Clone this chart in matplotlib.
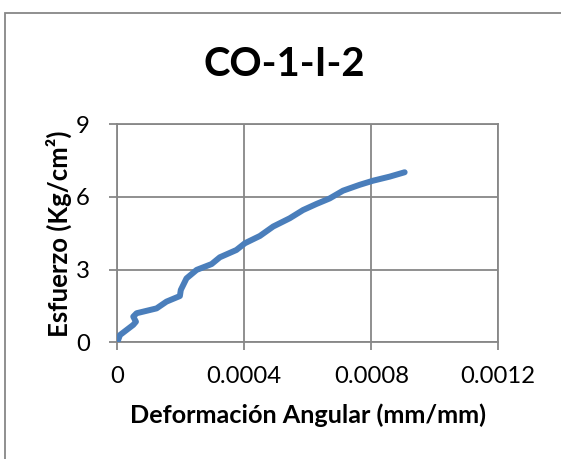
import matplotlib
matplotlib.use("Agg")
import matplotlib.pyplot as plt
from matplotlib.patches import Rectangle

# datos
deformacion = [0.0, 0.0000084, 0.0000503, 0.0000587, 0.0000503, 0.0000608, 0.0001237,
               0.000155, 0.0001971, 0.0002, 0.000218, 0.00025, 0.000297, 0.000323,
               0.000375, 0.000402, 0.000449, 0.000491, 0.000543, 0.000585, 0.000627,
               0.000669, 0.000711, 0.000763, 0.000805, 0.000858, 0.000905]
esfuerzo = [0.0, 0.30, 0.72, 0.85, 1.06, 1.20, 1.40, 1.68, 1.91, 2.16, 2.64, 2.99,
            3.23, 3.51, 3.81, 4.09, 4.39, 4.78, 5.12, 5.46, 5.71, 5.94, 6.26, 6.50,
            6.67, 6.84, 7.02]
xticks = [0, 0.0004, 0.0008, 0.0012]
xlabels = ["0", "0.0004", "0.0008", "0.0012"]
yticks = [0, 3, 6, 9]

plt.rcParams['font.family'] = ['Lato', 'DejaVu Sans']
gris = "#878787"

fig = plt.figure(figsize=(5.61, 4.59), dpi=100)

# marco del grafico
fig.patches.append(Rectangle((5 / 561, -0.1), 1.2, 1 - 13 / 459 + 0.1, transform=fig.transFigure,
                             fill=False, edgecolor=gris, linewidth=1.3))

ax = fig.add_axes([117.3 / 561, 1 - 342.3 / 459, (498.3 - 117.3) / 561, (342.3 - 124.3) / 459])
ax.plot(deformacion, esfuerzo, color="#4A7EBB", linewidth=4.3, solid_capstyle="round",
        solid_joinstyle="round", zorder=3)

ax.set_xlim(0, 0.0012)
ax.set_ylim(0, 9)
ax.set_xticks(xticks)
ax.set_xticklabels(xlabels)
ax.set_yticks(yticks)
ax.grid(True, color=gris, linewidth=1.3)
for s in ax.spines.values():
    s.set_color(gris)
    s.set_linewidth(1.3)
ax.tick_params(colors=gris, length=5.8, width=1.3, labelsize=17.2, labelcolor="black")
ax.tick_params(axis="x", pad=11)
ax.tick_params(axis="y", pad=14)

ax.set_xlabel("Deformación Angular (mm/mm)", fontsize=18.2, fontweight="bold", labelpad=12)
ax.set_ylabel("Esfuerzo (Kg/cm²)", fontsize=18.5, fontweight="bold", labelpad=3)

fig.text(284 / 561, 1 - 65 / 459, "CO-1-I-2", fontsize=28.8, fontweight="bold",
         ha="center", va="center")

fig.savefig("out.png", dpi=100)
